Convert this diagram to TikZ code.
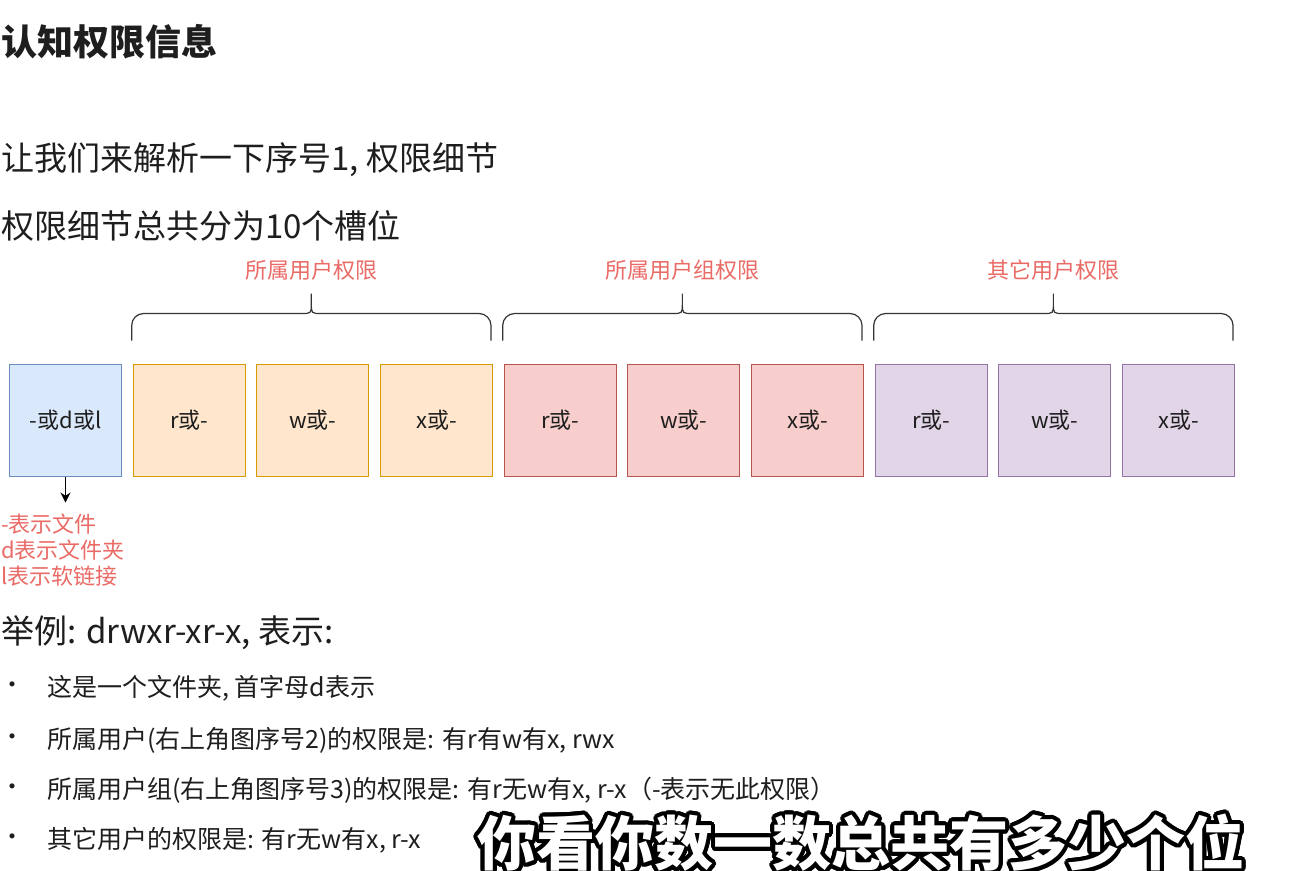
\documentclass[tikz,border=0pt]{standalone}
\usepackage{fontspec}
\setmainfont{Noto Sans CJK SC}
\usetikzlibrary{arrows.meta, positioning, calc}

\definecolor{txt}{HTML}{1E1E1E}
\definecolor{tagred}{HTML}{EA6B66}
\definecolor{fileFill}{HTML}{DAE8FC}
\definecolor{fileLine}{HTML}{6C8EBF}
\definecolor{userFill}{HTML}{FFE6CC}
\definecolor{userLine}{HTML}{D79B00}
\definecolor{groupFill}{HTML}{F8CECC}
\definecolor{groupLine}{HTML}{B85450}
\definecolor{otherFill}{HTML}{E1D5E7}
\definecolor{otherLine}{HTML}{9673A6}

% curly brace over a run of slots: first slot, last slot, name of the tip
\newcommand\slotbrace[3]{%
  \coordinate (#3) at ($(#1.north west)!0.5!(#2.north east)+(-1.5,70)$);
  \draw[brace] let \p1=(#1.north west), \p2=(#2.north east),
      \n1={0.5*\x1+0.5*\x2-1.5} in
    (\x1-1,\y1+23) -- (\x1-1,\y1+38) arc[start angle=180, end angle=90, radius=12]
    -- (\n1-10,\y1+50) .. controls (\n1,\y1+50) .. (\n1,\y1+60) -- (#3)
    -- (\n1,\y1+60) .. controls (\n1,\y1+50) .. (\n1+10,\y1+50)
    -- (\x2-14,\y1+50) arc[start angle=90, end angle=0, radius=12]
    -- (\x2-2,\y1+23);
}

\begin{document}
\begin{tikzpicture}[x=1pt, y=1pt, node distance=10.67pt,
  slot/.style={draw, line width=1pt, minimum width=112pt, minimum height=112pt,
    inner sep=0pt, text=txt, font=\fontsize{22}{26}\selectfont},
  fileslot/.style={slot, fill=fileFill, draw=fileLine},
  userslot/.style={slot, fill=userFill, draw=userLine},
  groupslot/.style={slot, fill=groupFill, draw=groupLine},
  otherslot/.style={slot, fill=otherFill, draw=otherLine},
  brace/.style={draw=txt!90, line width=1.2pt},
  tag/.style={text=tagred, inner sep=0pt, font=\fontsize{22}{26}\selectfont},
  line/.style={anchor=west, inner sep=0pt, text=txt},
  item/.style={line, font=\fontsize{25}{30}\selectfont},
  subtitle/.style={inner sep=0pt, font=\fontsize{59}{64}\selectfont\bfseries}]

  \fill[white] (0,0) rectangle (1314,-870);
  \useasboundingbox (0,0) rectangle (1314,-870);

  % headings
  \node[line, font=\fontsize{36}{42}\selectfont\bfseries] (title) at (1,-42) {认知权限信息};
  \node[line, font=\fontsize{33}{38}\selectfont] (intro) at (1,-160) {让我们来解析一下序号1, 权限细节};
  \node[line, font=\fontsize{33}{38}\selectfont] (slots) at (1,-226) {权限细节总共分为10个槽位};

  % the ten slots
  \node[fileslot] (b1) at (65.5,-420) {-或d或l};
  \node[userslot, right=of b1] (b2) {r或-};
  \node[userslot, right=of b2] (b3) {w或-};
  \node[userslot, right=of b3] (b4) {x或-};
  \node[groupslot, right=of b4] (b5) {r或-};
  \node[groupslot, right=of b5] (b6) {w或-};
  \node[groupslot, right=of b6] (b7) {x或-};
  \node[otherslot, right=of b7] (b8) {r或-};
  \node[otherslot, right=of b8] (b9) {w或-};
  \node[otherslot, right=of b9] (b10) {x或-};

  % braces and their labels
  \slotbrace{b2}{b4}{tipu}
  \slotbrace{b5}{b7}{tipg}
  \slotbrace{b8}{b10}{tipo}
  \node[tag, above=13pt of tipu] (lblu) {所属用户权限};
  \node[tag, above=13pt of tipg] (lblg) {所属用户组权限};
  \node[tag, above=13pt of tipo] (lblo) {其它用户权限};

  % file type note
  \coordinate (ftip) at ($(b1.south)+(0,-26)$);
  \draw[-{Stealth[length=10pt, width=10pt]}, line width=1.2pt] (b1.south) -- (ftip);
  \node[tag, anchor=north west, align=left, font=\fontsize{22}{26}\selectfont] (ftype) at (1,-514)
    {-表示文件\\d表示文件夹\\l表示软链接};

  % example
  \node[line, font=\fontsize{33}{38}\selectfont] (example) at (1,-633) {举例: drwxr-xr-x, 表示:};
  \foreach \y/\t [count=\i] in {688/{这是一个文件夹, 首字母d表示},
      740/{所属用户(右上角图序号2)的权限是: 有r有w有x, rwx},
      790/{所属用户组(右上角图序号3)的权限是: 有r无w有x, r-x（-表示无此权限）},
      840/{其它用户的权限是: 有r无w有x, r-x}} {
    \node[line, font=\fontsize{24}{28}\selectfont] (dot\i) at (0,-\y) {•};
    \node[item] (item\i) at (47,-\y) {\t};
  }

  % caption
  \coordinate (cap) at (861,-843);
  \foreach \a in {0,15,...,345}
    \node[subtitle, text=black] (halo\a) at ($(cap)+(\a:4)$) {你看你数一数总共有多少个位};
  \node[subtitle, text=white] (caption) at (cap) {你看你数一数总共有多少个位};
\end{tikzpicture}
\end{document}
